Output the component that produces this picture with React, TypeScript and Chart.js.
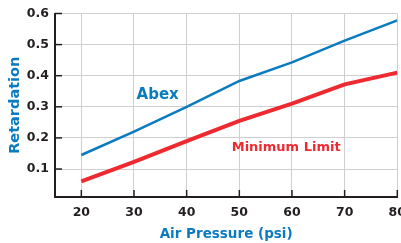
import React, { useEffect, useRef } from "react";
import { Chart, registerables } from "chart.js";

Chart.register(...registerables);

const pressures = [20, 30, 40, 50, 60, 70, 80];
const abex = [0.145, 0.22, 0.3, 0.383, 0.443, 0.513, 0.578];
const minimumLimit = [0.06, 0.123, 0.19, 0.255, 0.31, 0.372, 0.41];
const yTicks = [0.1, 0.2, 0.3, 0.4, 0.5, 0.6];

const BLUE = "#0b7bc1";
const RED = "#ee2a30";
const DARK = "#231f20";
const FONT = "'DejaVu Sans', sans-serif";

const labelPlugin = {
  id: "labels",
  afterDatasetsDraw(chart: any) {
    const { ctx, scales } = chart;
    const x = scales.x;
    const y = scales.y;
    ctx.save();
    // inward tick marks
    ctx.strokeStyle = DARK;
    ctx.lineWidth = 1.5;
    for (const v of pressures) {
      const px = x.getPixelForValue(v);
      ctx.beginPath();
      ctx.moveTo(px, y.bottom);
      ctx.lineTo(px, y.bottom - 7);
      ctx.stroke();
    }
    for (const v of yTicks) {
      const py = y.getPixelForValue(v);
      ctx.beginPath();
      ctx.moveTo(x.left, py);
      ctx.lineTo(x.left + 7, py);
      ctx.stroke();
    }
    // series labels
    ctx.textBaseline = "middle";
    ctx.textAlign = "center";
    ctx.fillStyle = BLUE;
    ctx.font = `bold 15px ${FONT}`;
    ctx.fillText("Abex", x.getPixelForValue(34.5), y.getPixelForValue(0.336));
    ctx.fillStyle = RED;
    ctx.font = `bold 13px ${FONT}`;
    ctx.fillText("Minimum Limit", x.getPixelForValue(58.9), y.getPixelForValue(0.17));
    ctx.restore();
  },
};

export default function App() {
  const ref = useRef<HTMLCanvasElement>(null);
  useEffect(() => {
    document.body.style.margin = "0";
    const chart = new Chart(ref.current!, {
      type: "line",
      data: {
        datasets: [
          {
            label: "Abex",
            data: pressures.map((p, i) => ({ x: p, y: abex[i] })),
            borderColor: BLUE,
            borderWidth: 2.5,
            pointRadius: 0,
            tension: 0,
          },
          {
            label: "Minimum Limit",
            data: pressures.map((p, i) => ({ x: p, y: minimumLimit[i] })),
            borderColor: RED,
            borderWidth: 4,
            pointRadius: 0,
            tension: 0,
          },
        ],
      },
      options: {
        animation: false,
        responsive: false,
        devicePixelRatio: 1,
        layout: { padding: { top: 12, right: 13, left: 0, bottom: 0 } },
        plugins: { legend: { display: false }, tooltip: { enabled: false } },
        scales: {
          x: {
            type: "linear",
            min: 15,
            max: 80,
            afterBuildTicks: (s: any) => {
              s.ticks = pressures.map((v) => ({ value: v }));
            },
            grid: { color: "#cfcfcf", lineWidth: 1, drawTicks: false },
            border: { color: DARK, width: 2 },
            ticks: {
              color: DARK,
              font: { family: FONT, weight: "bold", size: 12.5 },
              padding: 8,
              maxRotation: 0,
            },
            title: {
              display: true,
              text: "Air Pressure (psi)",
              color: BLUE,
              font: { family: FONT, weight: "bold", size: 13.5 },
              padding: { top: 4, bottom: 0 },
            },
            afterFit: (s: any) => {
              s.height = 46;
            },
          },
          y: {
            min: 0.01,
            max: 0.6,
            afterBuildTicks: (s: any) => {
              s.ticks = yTicks.map((v) => ({ value: v }));
            },
            grid: { color: "#cfcfcf", lineWidth: 1, drawTicks: false },
            border: { color: DARK, width: 2 },
            ticks: {
              color: DARK,
              font: { family: FONT, weight: "bold", size: 12.5 },
              padding: 6,
              callback: (v: any) => Number(v).toFixed(1),
            },
            title: {
              display: true,
              text: "Retardation",
              color: BLUE,
              font: { family: FONT, weight: "bold", size: 14.5 },
              padding: { top: 7, bottom: 0 },
            },
            afterFit: (s: any) => {
              s.width = 55;
            },
          },
        },
      },
      plugins: [labelPlugin],
    } as any);
    return () => chart.destroy();
  }, []);
  return (
    <div style={{ width: 401, height: 243, overflow: "hidden", position: "relative" }}>
      <canvas ref={ref} width={414} height={243} style={{ position: "absolute", left: 0, top: 0 }} />
    </div>
  );
}
